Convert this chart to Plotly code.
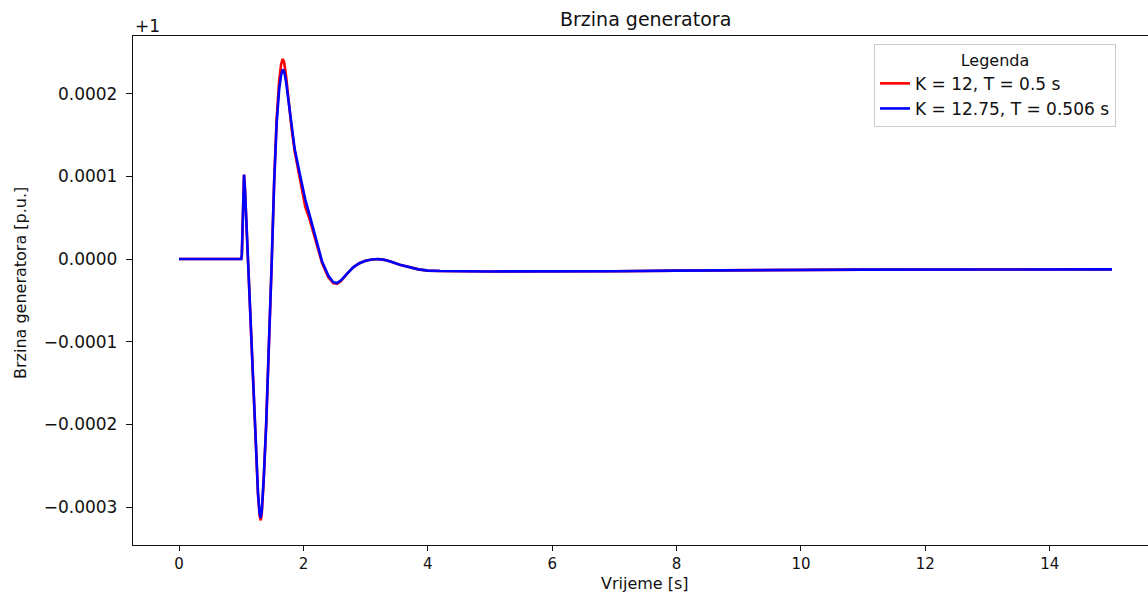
import plotly.graph_objects as go

# time [s]
t = [0, 1.0, 1.01, 1.02, 1.03, 1.045, 1.06, 1.08, 1.10, 1.12, 1.16, 1.20, 1.24, 1.27,
     1.295, 1.313, 1.33, 1.36, 1.40, 1.45, 1.49, 1.53, 1.57, 1.61, 1.64, 1.667, 1.69,
     1.72, 1.76, 1.81, 1.86, 1.95, 2.03, 2.1, 2.2, 2.3, 2.4, 2.48, 2.54, 2.6, 2.7, 2.8,
     2.9, 3.0, 3.1, 3.2, 3.3, 3.4, 3.55, 3.7, 3.85, 4.0, 4.2, 5.0, 6.0, 7.0, 8.0, 9.0,
     11.0, 13.0, 15.0]

# speed deviation from 1 p.u. (units of 1e-4)
speed_k12 = [0, 0, 0.05, 0.45, 0.8, 1.02, 0.85, 0.5, 0.15, -0.2, -0.95, -1.7, -2.4, -2.85,
             -3.1, -3.16, -3.08, -2.7, -2.03, -1.0, -0.05, 0.95, 1.7, 2.15, 2.35, 2.42, 2.38,
             2.22, 1.92, 1.58, 1.30, 0.95, 0.63, 0.48, 0.20, -0.05, -0.22, -0.29, -0.30, -0.27,
             -0.18, -0.10, -0.05, -0.02, -0.005, 0.0, -0.01, -0.03, -0.07, -0.10, -0.125,
             -0.14, -0.145, -0.15, -0.153, -0.148, -0.14, -0.133, -0.128, -0.126, -0.125]

speed_k1275 = [0, 0, 0.05, 0.45, 0.8, 1.02, 0.85, 0.5, 0.15, -0.2, -0.95, -1.7, -2.4, -2.83,
               -3.07, -3.13, -3.05, -2.68, -2.03, -1.0, -0.05, 0.93, 1.65, 2.05, 2.22, 2.29, 2.27,
               2.15, 1.90, 1.58, 1.33, 1.0, 0.72, 0.53, 0.24, -0.03, -0.20, -0.28, -0.29, -0.26,
               -0.18, -0.10, -0.05, -0.02, -0.005, 0.0, -0.01, -0.03, -0.07, -0.10, -0.125,
               -0.14, -0.145, -0.15, -0.153, -0.148, -0.14, -0.133, -0.128, -0.126, -0.125]

labels = ["K = 12, T = 0.5 s", "K = 12.75, T = 0.506 s"]
colors = ["#ff0000", "#0000ff"]

x_ticks = [0, 2, 4, 6, 8, 10, 12, 14]
y_ticks = [0.0002, 0.0001, 0.0, -0.0001, -0.0002, -0.0003]
y_ticktext = ["0.0002", "0.0001", "0.0000", "\u22120.0001", "\u22120.0002", "\u22120.0003"]

FONT = "DejaVu Sans, sans-serif"

fig = go.Figure()
for vals, name, col in [(speed_k12, labels[0], colors[0]), (speed_k1275, labels[1], colors[1])]:
    fig.add_trace(go.Scatter(
        x=t, y=[v * 1e-4 for v in vals], mode="lines", name=name,
        line=dict(color=col, width=2.6),
    ))

W, H = 1148, 593
L, R, T, B = 133, 1148, 36, 545

def px(x):
    return (x - L) / (R - L)

def py(y):
    return (B - y) / (B - T)

fig.update_layout(
    width=W, height=H,
    margin=dict(l=L, r=W - R, t=T, b=H - B, autoexpand=False),
    paper_bgcolor="white", plot_bgcolor="white",
    font=dict(family=FONT, size=17, color="#111111"),
    showlegend=True,
    legend=dict(
        title=dict(text="Legenda", side="top center", font=dict(size=16)),
        x=px(874), y=py(44), xanchor="left", yanchor="top",
        bgcolor="white", bordercolor="#cccccc", borderwidth=1,
        font=dict(size=17), tracegroupgap=0,
    ),
)

fig.add_annotation(text="Brzina generatora", x=px(645), y=py(19), xref="paper", yref="paper",
                   showarrow=False, font=dict(size=19), xanchor="center", yanchor="middle")
fig.add_annotation(text="+1", x=px(133), y=py(26), xref="paper", yref="paper", showarrow=False,
                   xanchor="left", yanchor="middle", font=dict(size=17))
fig.add_annotation(text="Vrijeme [s]", x=px(645), y=py(583), xref="paper", yref="paper",
                   showarrow=False, font=dict(size=16), xanchor="center", yanchor="middle")
fig.add_annotation(text="Brzina generatora [p.u.]", x=px(20), y=py(283), xref="paper", yref="paper",
                   showarrow=False, font=dict(size=16), textangle=-90,
                   xanchor="center", yanchor="middle")

fig.update_xaxes(
    range=[-0.74, 15.58], tickvals=x_ticks, ticktext=[str(v) for v in x_ticks],
    showgrid=False, zeroline=False, showline=True, linecolor="#111111", linewidth=1.3,
    mirror=True, ticks="outside", ticklen=5, tickcolor="#111111", ticklabelstandoff=0,
    tickfont=dict(size=15),
)
fig.update_yaxes(
    range=[-0.0003458, 0.0002697], tickvals=y_ticks, ticktext=y_ticktext,
    showgrid=False, zeroline=False, showline=True, linecolor="#111111", linewidth=1.3,
    mirror=False, ticks="outside", ticklen=6, tickcolor="#111111", ticklabelstandoff=5,
)

fig.write_html(
    "out.html",
    config={"displayModeBar": False},
    post_script="document.body.style.margin='0';document.body.style.overflow='hidden';",
)
